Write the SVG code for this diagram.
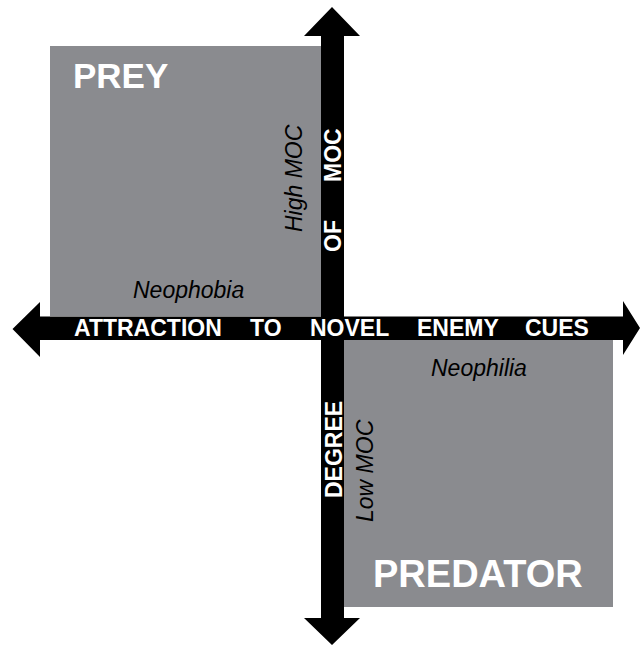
<svg xmlns="http://www.w3.org/2000/svg" width="643" height="646" viewBox="0 0 643 646">
<style>
.box{fill:#8a8b8f}
.ax{fill:#000}
.lbl{font-family:"Liberation Sans",Arial,sans-serif;font-weight:bold;fill:#fff}
.axl{font-family:"Liberation Sans",Arial,sans-serif;font-weight:bold;font-size:23px;fill:#fff}
.it{font-family:"Liberation Sans",Arial,sans-serif;font-style:italic;font-size:23px;fill:#000}
</style>
<rect width="643" height="646" fill="#fff"/>
<g id="prey">
<rect class="box" x="50" y="46" width="271" height="270"/>
<text class="lbl" x="73" y="88" font-size="35">PREY</text>
<text class="it" x="133" y="298">Neophobia</text>
<text class="it" transform="translate(301.5,232) rotate(-90)">High MOC</text>
</g>
<g id="predator">
<rect class="box" x="344" y="340" width="269" height="267"/>
<text class="lbl" x="373" y="587" font-size="38">PREDATOR</text>
<text class="it" x="431" y="376">Neophilia</text>
<text class="it" transform="translate(373,522) rotate(-90)">Low MOC</text>
</g>
<g id="connectors">
<polygon class="ax" points="12.5,329 40,302 40,316.5 623,316.5 623,301 640,328 623,355 623,340 40,340 40,357"/>
<polygon class="ax" points="332,7 360,36 344,36 344,618 360,618 332,645 304,618 321,618 321,36 304,36"/>
</g>
<g id="axis-labels">
<text class="axl" x="74" y="336">ATTRACTION</text>
<text class="axl" x="250" y="336">TO</text>
<text class="axl" x="310" y="336">NOVEL</text>
<text class="axl" x="417" y="336">ENEMY</text>
<text class="axl" x="525" y="336">CUES</text>
<text class="axl" transform="translate(341,252) rotate(-90)">OF</text>
<text class="axl" transform="translate(341,182) rotate(-90)">MOC</text>
<text class="axl" transform="translate(341.5,498) rotate(-90)">DEGREE</text>
</g>
</svg>
